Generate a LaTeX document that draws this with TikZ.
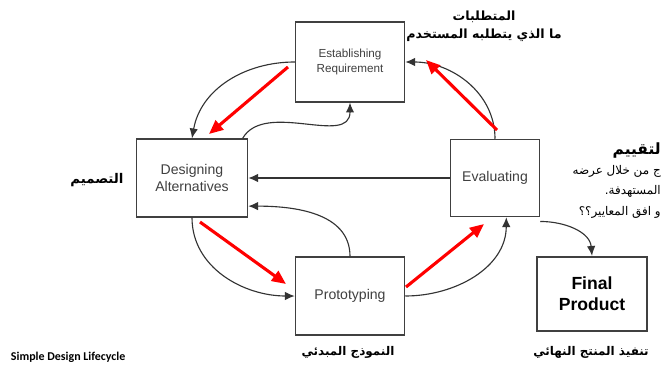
\documentclass[tikz,border=0pt]{standalone}
\usepackage{fontspec}
\setmainfont{Liberation Sans}
\newfontfamily\arabicfont[Script=Arabic]{DejaVu Sans}
\newfontfamily\capfont{Carlito}
\TeXXeTstate=1
\usetikzlibrary{arrows.meta, positioning}

\begin{document}
\begin{tikzpicture}[x=0.025cm, y=-0.025cm,
  box/.style={draw=black!75, line width=0.9pt, fill=white, align=center,
    text=black!75, font=\fontsize{10}{12}\selectfont, inner sep=0pt},
  flow/.style={-{Latex[length=7pt,width=6pt]}, black!80, line width=0.8pt},
  hint/.style={-{Triangle[length=10pt,width=8.5pt]}, red, line width=2.2pt},
  note/.style={font=\arabicfont\bfseries\fontsize{9.5}{13}\selectfont, align=center}]
  \useasboundingbox (0,0) rectangle (661,366);

  % boxes of the cycle
  \node[box, minimum width=2.73cm, minimum height=2cm,
    font=\fontsize{8.3}{10}\selectfont] (est) at (350,62) {Establishing\\Requirement};
  \node[box, minimum width=2.78cm, minimum height=1.95cm] (des) at (192,178) {Designing\\Alternatives};
  \node[box, minimum width=2.23cm, minimum height=1.93cm] (eval) at (495,178) {Evaluating};
  \node[box, minimum width=2.73cm, minimum height=1.95cm] (proto) at (350,296) {Prototyping};
  \node[box, minimum width=2.75cm, minimum height=1.85cm, line width=1.6pt, text=black,
    font=\fontsize{12.5}{15}\selectfont\bfseries] (final) at (592,294) {Final\\Product};

  % labels
  \node[note, font=\arabicfont\bfseries\fontsize{9}{13}\selectfont] (reqnote) at (484,26)
    {\beginR المتطلبات\endR\\\beginR ما الذي يتطلبه المستخدم\endR};
  \node[note] (desnote) at (97,180) {\beginR التصميم\endR};
  \node[note, font=\arabicfont\bfseries\fontsize{8.5}{11}\selectfont] (protonote) at (348,352)
    {\beginR النموذج المبدئي\endR};
  \node[note, font=\arabicfont\bfseries\fontsize{8.5}{11}\selectfont] (finalnote) at (591,352)
    {\beginR تنفيذ المنتج النهائي\endR};
  \node[note, anchor=north east, align=right, inner sep=0pt,
    font=\arabicfont\fontsize{8.5}{14.5}\selectfont] (evalnote) at (661,142)
    {{\bfseries\fontsize{11}{14.5}\selectfont\beginR لتقييم\endR}\\\beginR ج من خلال عرضه\endR\\
     \beginR المستهدفة.\endR\\\beginR و افق المعايير؟؟\endR};
  \node[anchor=west, font=\capfont\fontsize{8.5}{10}\selectfont\bfseries] (title) at (6,357)
    {Simple Design Lifecycle};

  % thin connectors
  \path[flow]
    (est.west) edge[out=180, in=80] (des.north)
    ([xshift=-4pt]des.north east) edge[out=60, in=-90] (est.south)
    (eval.north) edge[out=90, in=0] (est.east)
    (eval.west) edge (des.east)
    (des.south) edge[out=-90, in=180] (proto.west)
    (proto.north) edge[out=90, in=0] ([yshift=-20pt]des.east)
    (proto.east) edge[out=0, in=-90] ([xshift=8pt]eval.south)
    ([yshift=-3pt]eval.south east) edge[out=0, in=95] (final.north);

  % red hints
  \coordinate (r1a) at (288,67);  \coordinate (r1b) at (209,134);
  \coordinate (r2a) at (200,222); \coordinate (r2b) at (286,284);
  \coordinate (r3a) at (406,287); \coordinate (r3b) at (484,224);
  \coordinate (r4a) at (497,130); \coordinate (r4b) at (426,60);
  \draw[hint] (r1a) -- (r1b);
  \draw[hint] (r2a) -- (r2b);
  \draw[hint] (r3a) -- (r3b);
  \draw[hint] (r4a) -- (r4b);
\end{tikzpicture}
\end{document}
